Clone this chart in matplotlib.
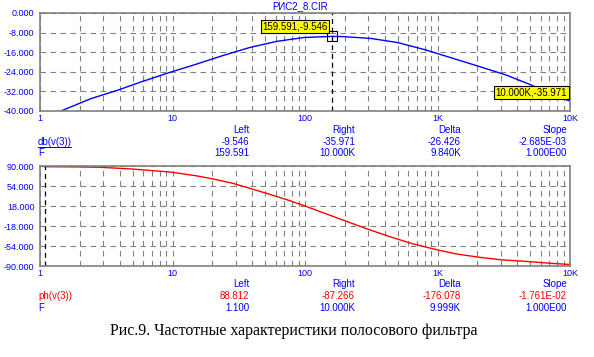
import numpy as np
import matplotlib
matplotlib.use("Agg")
import matplotlib.pyplot as plt
from matplotlib.ticker import FixedLocator, NullFormatter

# ---- data ----
freq_db = [1.44, 2.41, 3.86, 5.82, 9.34, 14.9, 23.9, 38.2, 61.0, 98.0, 159.591, 197.0, 316.0, 504.0, 806.0,
           1290.0, 2058.0, 3290.0, 5000.0, 7000.0, 10000.0]
db_vals = [-40.0, -35.0, -31.5, -28.1, -24.4, -21.0, -17.4, -14.1, -11.6, -10.0, -9.546, -9.65, -10.4, -12.1,
           -15.0, -18.4, -21.8, -25.3, -29.2, -32.6, -35.971]

freq_ph = [1.05, 1.1, 2.0, 2.84, 5.0, 9.56, 15.0, 20.0, 28.6, 40.0, 55.0, 77.0, 100.0, 140.0, 200.0, 300.0,
           437.0, 650.0, 958.0, 1400.0, 2090.0, 3000.0, 4970.0, 7000.0, 10000.0]
ph_vals = [89.2, 88.812, 88.3, 87.7, 84.5, 79.2, 72.5, 67.0, 58.8, 48.5, 38.5, 27.5, 18.0, 5.0, -8.5, -24.0,
           -37.2, -50.0, -60.0, -68.5, -74.4, -78.8, -82.2, -85.0, -87.266]

x_ticks = [1, 10, 100, 1000, 10000]
x_labels = ["1", "10", "100", "1K", "10K"]
db_ticks = [0, -8, -16, -24, -32, -40]
ph_ticks = [90, 54, 18, -18, -54, -90]

cursor_db = (159.591, -9.546)
cursor_db_right = (10000.0, -35.971)
cursor_ph_left = 1.1

db_table = [["Left", "Right", "Delta", "Slope"],
            ["-9.546", "-35.971", "-26.426", "-2.685E-03"],
            ["159.591", "10.000K", "9.840K", "1.000E00"]]
ph_table = [["Left", "Right", "Delta", "Slope"],
            ["88.812", "-87.266", "-176.078", "-1.761E-02"],
            ["1.100", "10.000K", "9.999K", "1.000E00"]]

# ---- figure ----
W, H = 594, 357
fig = plt.figure(figsize=(W / 100, H / 100), dpi=100)
fig.patch.set_facecolor("white")

BLUE = "#0000ff"
RED = "#ff0000"
GRAY = "#808080"
FONT = "Liberation Sans"
FS = 6.5


def fx(px):
    return px / W


def fy(py):
    return 1 - py / H


def make_ax(top, bottom):
    ax = fig.add_axes([fx(40), fy(bottom), fx(570) - fx(40), fy(top) - fy(bottom)])
    ax.set_xscale("log")
    ax.set_xlim(1, 10000)
    minors = [m * 10 ** d for d in range(4) for m in range(2, 10)]
    ax.xaxis.set_minor_locator(FixedLocator(minors))
    ax.xaxis.set_minor_formatter(NullFormatter())
    ax.set_xticks(x_ticks)
    ax.set_xticklabels(x_labels, fontfamily=FONT, fontsize=FS, color=BLUE)
    ax.tick_params(axis="x", which="both", length=0, pad=2)
    ax.tick_params(axis="y", which="both", length=0, pad=4)
    ax.grid(True, which="both", axis="x", color=GRAY, linestyle=(0, (5, 4)), linewidth=0.8)
    ax.grid(True, which="major", axis="y", color=GRAY, linestyle=(0, (5, 4)), linewidth=0.8)
    for s in ax.spines.values():
        s.set_color(GRAY)
        s.set_linewidth(1.2)
    return ax


# top panel
ax1 = make_ax(13, 111)
ax1.set_ylim(-40, 0)
ax1.set_yticks(db_ticks)
ax1.set_yticklabels(["%.3f" % v for v in db_ticks], fontfamily=FONT, fontsize=FS, color=BLUE)
ax1.plot(freq_db, db_vals, color=BLUE, linewidth=1.0)
ax1.axvline(cursor_db[0], color="black", linestyle=(0, (4, 3)), linewidth=0.9)
ax1.plot([cursor_db[0]], [cursor_db[1]], marker="s", markersize=7, markerfacecolor="none",
         markeredgecolor="black", markeredgewidth=0.8, clip_on=False)
ax1.annotate("159.591,-9.546", xy=cursor_db, xytext=(-3, 7), textcoords="offset points",
             ha="right", va="center", fontfamily=FONT, fontsize=FS + 0.5, color="black",
             bbox=dict(boxstyle="square,pad=0.15", facecolor="#ffff00", edgecolor="black", linewidth=0.8))
ax1.annotate("10.000K,-35.971", xy=cursor_db_right, xytext=(-2, 6), textcoords="offset points",
             ha="right", va="center", fontfamily=FONT, fontsize=FS + 0.5, color="black",
             bbox=dict(boxstyle="square,pad=0.15", facecolor="#ffff00", edgecolor="black", linewidth=0.8))

# bottom panel
ax2 = make_ax(166, 266)
ax2.set_ylim(-90, 90)
ax2.set_yticks(ph_ticks)
ax2.set_yticklabels(["%.3f" % v for v in ph_ticks], fontfamily=FONT, fontsize=FS, color=BLUE)
ax2.plot(freq_ph, ph_vals, color=RED, linewidth=1.0)
ax2.axvline(cursor_ph_left, color="black", linestyle=(0, (4, 3)), linewidth=0.9)

# title
fig.text(fx(300), fy(6), "РИС2_8.CIR", ha="center", va="center", fontfamily=FONT, fontsize=FS + 0.5, color=BLUE)

# tables
col_x = [249, 355, 461, 567]


def table(rows, row_y, val_color):
    for r, (cells, y) in enumerate(zip(rows, row_y)):
        for txt, x in zip(cells, col_x):
            color = val_color if r == 1 else BLUE
            fig.text(fx(x), fy(y), txt, ha="right", va="center", fontfamily=FONT, fontsize=FS + 0.5, color=color)


table(db_table, [130, 142, 153], BLUE)
fig.text(fx(38), fy(142), "db(v(3))", ha="left", va="center", fontfamily=FONT, fontsize=FS + 0.5, color=BLUE)
fig.text(fx(38), fy(153), "F", ha="left", va="center", fontfamily=FONT, fontsize=FS + 0.5, color=BLUE)
fig.add_artist(plt.Line2D([fx(38), fx(71)], [fy(146.5), fy(146.5)], color=BLUE, linewidth=0.7))

table(ph_table, [284, 296, 308], RED)
fig.text(fx(38), fy(296), "ph(v(3))", ha="left", va="center", fontfamily=FONT, fontsize=FS + 0.5, color=RED)
fig.text(fx(38), fy(308), "F", ha="left", va="center", fontfamily=FONT, fontsize=FS + 0.5, color=BLUE)

# caption
fig.text(fx(294), fy(331), "Рис.9. Частотные характеристики полосового фильтра", ha="center", va="center",
         fontfamily="Liberation Serif", fontsize=11.5, color="black")

fig.savefig("out.png", dpi=100, facecolor="white")
